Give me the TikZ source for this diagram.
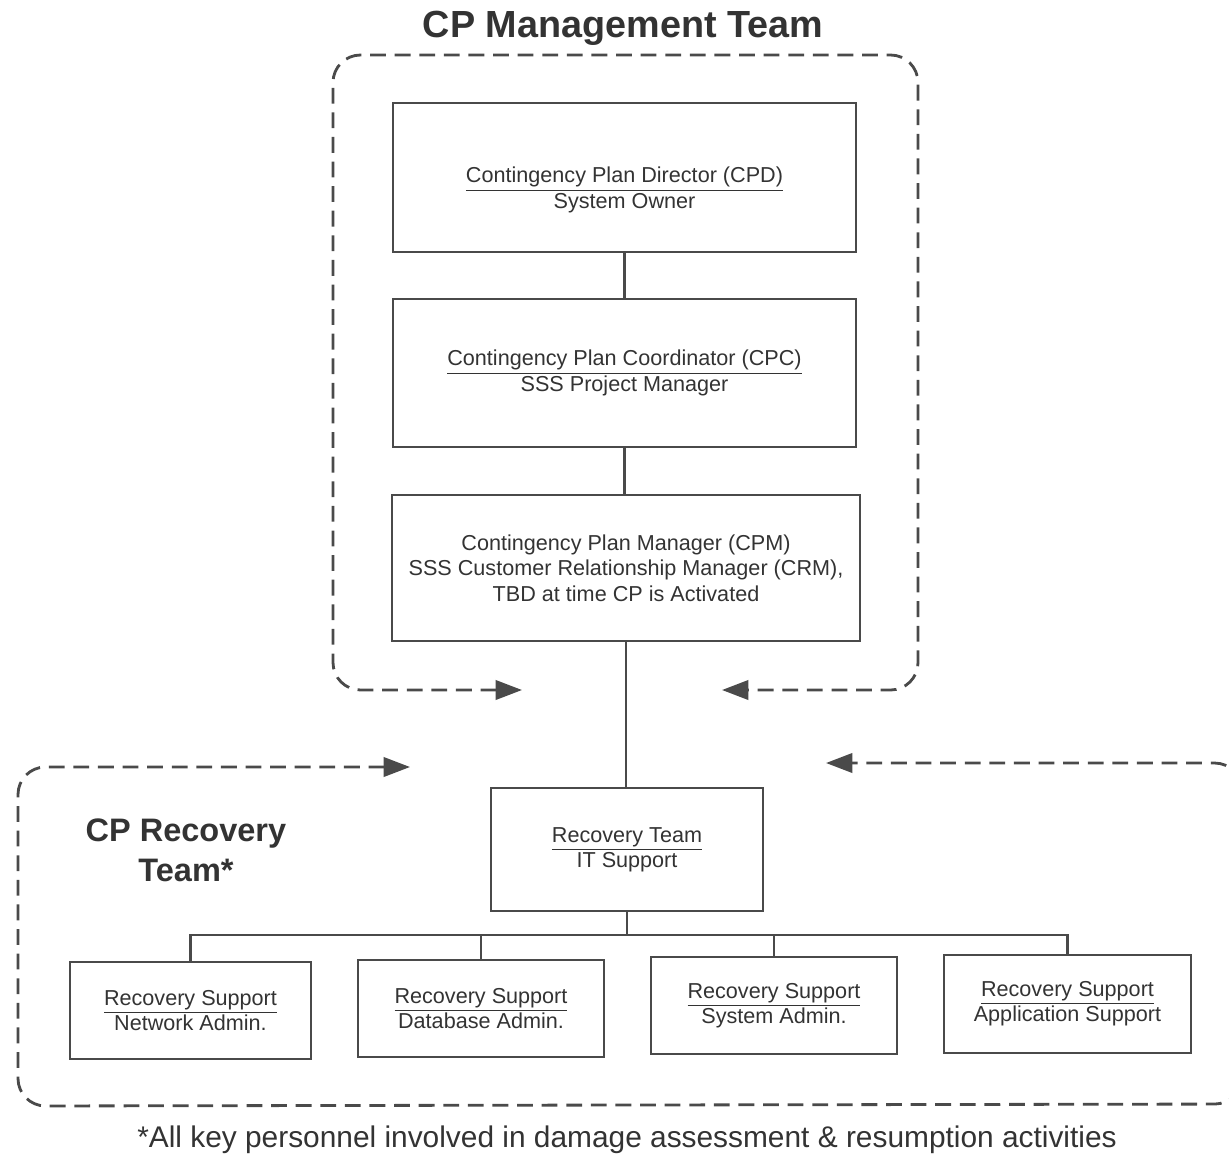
\documentclass[tikz,border=0pt]{standalone}
\usepackage{fontspec}
\setmainfont{Liberation Sans}
\usetikzlibrary{arrows.meta}
\definecolor{ink}{HTML}{4A4A4A}
\definecolor{txt}{HTML}{333333}
\tikzset{
  box/.style={draw=ink, line width=1.5pt, rectangle, align=center, text=txt,
    font=\fontsize{12.3}{14.4}\selectfont, inner sep=0pt},
  boxtext/.style={align=center, text=txt, font=\fontsize{12.3}{14.4}\selectfont, inner sep=0pt},
  link/.style={draw=ink, line width=1.5pt},
  dashbox/.style={draw=ink, line width=1.6pt, dash pattern=on 9pt off 5pt,
    rounded corners=0.55cm},
  mytip/.tip={Triangle[length=15pt, width=11pt]},
  title/.style={text=txt, font=\bfseries\fontsize{21.5}{24}\selectfont, inner sep=0pt},
  subtitle/.style={text=txt, font=\bfseries\fontsize{18.5}{22.7}\selectfont, align=center, inner sep=0pt},
  note/.style={text=txt, font=\fontsize{17}{20}\selectfont, inner sep=0pt}
}
\begin{document}
\begin{tikzpicture}[x=0.02cm, y=-0.02cm]
\useasboundingbox (0,0) rectangle (1229,1156);
% titles
\node[title] (t1) at (623,28) {CP Management Team};
\node[subtitle] (t2) at (186,850) {CP Recovery\\Team*};
\node[note] (t3) at (627,1140) {*All key personnel involved in damage assessment \& resumption activities};
% boxes
\node[box, minimum width=9.26cm, minimum height=2.98cm] (cpd) at (624.5,177.5) {};
\node[boxtext] (cpdtext) at (624.5,190)
  {\underline{Contingency Plan Director (CPD)}\\System Owner};
\node[box, minimum width=9.26cm, minimum height=2.96cm] (cpc) at (624.5,373)
  {\underline{Contingency Plan Coordinator (CPC)}\\SSS Project Manager};
\node[box, minimum width=9.36cm, minimum height=2.92cm] (cpm) at (626,568)
  {Contingency Plan Manager (CPM)\\SSS Customer Relationship Manager (CRM),\\TBD at time CP is Activated};
\node[box, minimum width=5.44cm, minimum height=2.46cm] (rt) at (627,849.5)
  {\underline{Recovery Team}\\IT Support};
\node[box, minimum width=4.82cm, minimum height=1.94cm] (rs1) at (190.5,1010.5)
  {\underline{Recovery Support}\\Network Admin.};
\node[box, minimum width=4.92cm, minimum height=1.94cm] (rs2) at (481,1008.5)
  {\underline{Recovery Support}\\Database Admin.};
\node[box, minimum width=4.92cm, minimum height=1.94cm] (rs3) at (774,1005.5)
  {\underline{Recovery Support}\\System Admin.};
\node[box, minimum width=4.94cm, minimum height=1.96cm] (rs4) at (1067.5,1004)
  {\underline{Recovery Support}\\Application Support};
% connectors
\coordinate (bus) at (627,935);
\draw[link] (cpd) -- (cpc);
\draw[link] (cpc.south) -- (cpc.south |- cpm.north);
\draw[link] (cpm.south) -- (cpm.south |- rt.north);
\draw[link] (rt.south) -- (bus);
\draw[link] (rs1.north) -- (rs1.north |- bus) -- (rs4.north |- bus) -- (rs4.north);
\draw[link] (rs2.north) -- (rs2.north |- bus);
\draw[link] (rs3.north) -- (rs3.north |- bus);
% dashed team boundaries with arrows
\draw[dashbox, mytip-mytip] (522,690) -- (333,690) -- (333,55) -- (918,55) -- (918,690) -- (722,690);
\draw[dashbox, mytip-mytip] (410,767) -- (18,767) -- (18,1106) -- (1242,1104) -- (1242,763) -- (826,763);
\end{tikzpicture}
\end{document}
